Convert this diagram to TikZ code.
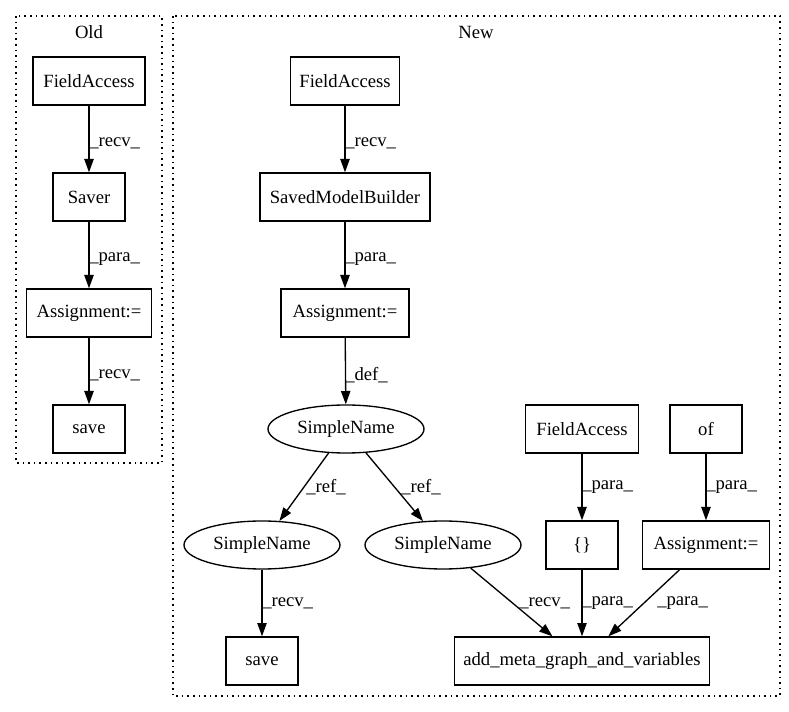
\documentclass[tikz,border=0pt]{standalone}
\usepackage{fontspec}
\setmainfont{Liberation Serif}
\usetikzlibrary{shapes.geometric,arrows.meta}
\begin{document}
\begin{tikzpicture}[x=0.75pt,y=-0.75pt,
  every node/.style={font=\fontsize{14pt}{16pt}\selectfont},
  box/.style={draw,line width=1pt,rectangle,minimum height=36pt,inner sep=0pt},
  ell/.style={draw,line width=1pt,ellipse,minimum width=117pt,minimum height=36pt,inner sep=0pt},
  edge/.style={line width=1pt,-{Triangle[length=10pt,width=7pt]}},
  lab/.style={anchor=west,inner sep=0pt},
  cluster/.style={draw,line width=1pt,dash pattern=on 1.2pt off 3pt}]
\useasboundingbox (0,0) rectangle (789,712);
% clusters
\draw[cluster] (16,16) rectangle (162,463);
\draw[cluster] (173,16) rectangle (780,696);
\node (oldlbl) at (89,32) {Old};
\node (newlbl) at (476,32) {New};
% Old
\node[box,minimum width=84pt] (ofa) at (89,81) {FieldAccess};
\node[box,minimum width=54pt] (saver) at (89,197) {Saver};
\node[box,minimum width=94pt] (oas) at (89,313) {Assignment:=};
\node[box,minimum width=54pt] (osave) at (89,429) {save};
\draw[edge] (ofa) -- (saver);
\draw[edge] (saver) -- (oas);
\draw[edge] (oas) -- (osave);
\node[lab] (l1) at (89,143) {\_recv\_};
\node[lab] (l2) at (89,259) {\_para\_};
\node[lab] (l3) at (89,375) {\_recv\_};
% New
\node[box,minimum width=82pt] (nfa) at (345,81) {FieldAccess};
\node[box,minimum width=127.5pt] (smb) at (345,197) {SavedModelBuilder};
\node[box,minimum width=96pt] (nas) at (345,313) {Assignment:=};
\node[ell] (sn) at (346,429) {SimpleName};
\node[ell] (snl) at (262,545) {SimpleName};
\node[ell] (snm) at (443,545) {SimpleName};
\node[box,minimum width=85pt] (fa2) at (582,429) {FieldAccess};
\node[box,minimum width=54pt] (of) at (706,429) {of};
\node[box,minimum width=54pt] (br) at (582,545) {\{\}};
\node[box,minimum width=95pt] (as2) at (706,545) {Assignment:=};
\node[box,minimum width=54pt] (nsave) at (262,661) {save};
\node[box,minimum width=191pt] (add) at (582,661) {add\_meta\_graph\_and\_variables};
\draw[edge] (nfa) -- (smb);
\draw[edge] (smb) -- (nas);
\draw[edge] (nas) -- (sn);
\draw[edge] (sn) -- (snl);
\draw[edge] (sn) -- (snm);
\draw[edge] (fa2) -- (br);
\draw[edge] (of) -- (as2);
\draw[edge] (snl) -- (nsave);
\draw[edge] (snm) -- (add);
\draw[edge] (br) -- (add);
\draw[edge] (as2) -- (add);
\node[lab] (l4) at (345,143) {\_recv\_};
\node[lab] (l5) at (345,259) {\_para\_};
\node[lab] (l6) at (345,375) {\_def\_};
\node[lab] (l7) at (306,487) {\_ref\_};
\node[lab] (l8) at (401,487) {\_ref\_};
\node[lab] (l9) at (582,487) {\_para\_};
\node[lab] (l10) at (706,487) {\_para\_};
\node[lab] (l11) at (262,603) {\_recv\_};
\node[lab] (l12) at (519,603) {\_recv\_};
\node[lab] (l13) at (582,603) {\_para\_};
\node[lab] (l14) at (657,603) {\_para\_};
\end{tikzpicture}
\end{document}
